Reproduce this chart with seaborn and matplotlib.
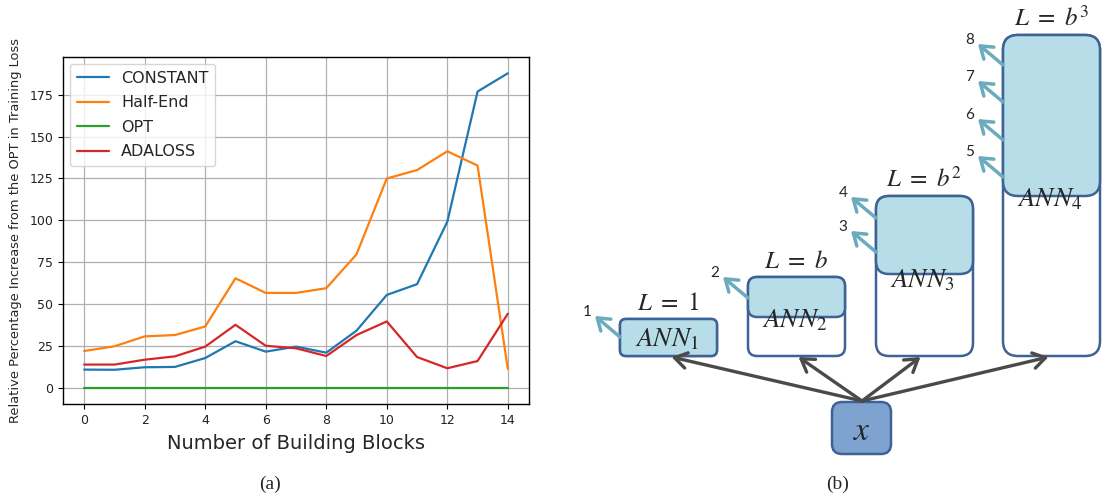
import matplotlib
matplotlib.use("Agg")
import matplotlib.pyplot as plt
import pandas as pd
import seaborn as sns
from matplotlib.patches import FancyBboxPatch

# ---- panel (a): training-loss increase relative to OPT ----
blocks = list(range(15))
constant = [11.1, 11.0, 12.5, 12.7, 18.0, 28.0, 21.8, 24.8, 21.2, 34.3, 55.6, 62.0, 99.2, 176.8, 187.7]
half_end = [22.2, 25.0, 30.9, 31.7, 36.8, 65.5, 56.8, 56.8, 59.6, 79.8, 125.0, 130.0, 141.2, 132.7, 11.5]
opt = [0.0] * 15
adaloss = [14.1, 14.1, 17.0, 19.0, 24.8, 37.8, 25.3, 23.8, 19.2, 31.7, 39.8, 18.6, 11.9, 16.2, 44.4]
methods = ["CONSTANT", "Half-End", "OPT", "ADALOSS"]
x_ticks = [0, 2, 4, 6, 8, 10, 12, 14]
y_ticks = [0, 25, 50, 75, 100, 125, 150, 175]

# ---- panel (b): anytime network with growing depth ----
ann_labels = [r"$ANN_1$", r"$ANN_2$", r"$ANN_3$", r"$ANN_4$"]
depth_labels = [r"$L\ =\ 1$", r"$L\ =\ b$", r"$L\ =\ b^2$", r"$L\ =\ b^3$"]
output_ids = [[1], [2], [3, 4], [5, 6, 7, 8]]
input_label = r"$x$"

sns.set_theme(style="ticks")
plt.rcParams["font.family"] = ["DejaVu Sans"]
plt.rcParams["axes.edgecolor"] = "black"
plt.rcParams["axes.linewidth"] = 1.0

W, H = 1106, 498
fig = plt.figure(figsize=(W / 100, H / 100), dpi=100)

# line chart
ax = fig.add_axes([63 / W, (H - 404) / H, (529 - 63) / W, (404 - 57) / H])
df = pd.DataFrame({
    "block": blocks * 4,
    "value": constant + half_end + opt + adaloss,
    "method": sum([[m] * len(blocks) for m in methods], []),
})
palette = dict(zip(methods, ["#1f77b4", "#ff7f0e", "#2ca02c", "#d62728"]))
sns.lineplot(data=df, x="block", y="value", hue="method", hue_order=methods,
             palette=palette, linewidth=1.6, ax=ax)
ax.set_xticks(x_ticks)
ax.set_yticks(y_ticks)
ax.set_xlim(-0.7, 14.7)
ax.set_ylim(-9.4, 197.4)
ax.grid(True, color="#b0b0b0", linewidth=0.9)
ax.set_axisbelow(True)
ax.tick_params(labelsize=9, length=3.5, width=0.8, color="black", labelcolor="#222222")
ax.set_xlabel("Number of Building Blocks", fontsize=14, labelpad=5)
ax.set_ylabel("Relative Percentage Increase from the OPT in Training Loss",
              fontsize=9.4, labelpad=5)
handles, labels = ax.get_legend_handles_labels()
ax.legend(handles, labels, loc="upper left", fontsize=11.5, frameon=True,
          framealpha=0.8, edgecolor="#cccccc", fancybox=True, labelspacing=0.6,
          borderaxespad=0.45)
for s in ax.spines.values():
    s.set_visible(True)
    s.set_color("black")

# diagram drawn in a pixel-scaled frame
dx = fig.add_axes([580 / W, 0, (W - 580) / W, 1])
dx.set_xlim(580, W)
dx.set_ylim(H, 0)
dx.axis("off")

edge = "#3f6296"
light = "#b7dde8"
dark_fill = "#7fa3d1"
teal = "#6aabbd"
gray = "#4a4a4a"

box_left = [620, 748, 876, 1003]
box_w = 97
box_top = [319, 277, 196, 35]
box_bottom = 356
fill_bottom = [356, 317, 274, 196]
radius = [6, 9, 13, 15]
ann_baseline = [346, 327, 287, 206]

for i in range(4):
    xl, yt = box_left[i], box_top[i]
    outer = FancyBboxPatch((xl, yt), box_w, box_bottom - yt,
                           boxstyle=f"round,pad=0,rounding_size={radius[i]}",
                           facecolor="white", edgecolor=edge, linewidth=1.8, zorder=2)
    dx.add_patch(outer)
    inner = FancyBboxPatch((xl, yt), box_w, fill_bottom[i] - yt,
                           boxstyle=f"round,pad=0,rounding_size={radius[i]}",
                           facecolor=light, edgecolor=edge, linewidth=1.8, zorder=3)
    dx.add_patch(inner)
    cx = xl + box_w / 2
    dx.text(cx, yt - 9, depth_labels[i], ha="center", va="baseline",
            fontsize=18, math_fontfamily="stix", zorder=5)
    dx.text(cx - 2, ann_baseline[i], ann_labels[i], ha="center", va="baseline",
            fontsize=19.5, math_fontfamily="stix", zorder=5)

# intermediate outputs leaving the shaded part of each block
out_start = {1: (620, 337), 2: (748, 298), 3: (876, 252), 4: (876, 218),
             5: (1003, 177), 6: (1003, 140), 7: (1003, 102), 8: (1003, 65)}
for ids in output_ids:
    for k in ids:
        sx, sy = out_start[k]
        tx, ty = sx - 25, sy - 21
        dx.annotate("", xy=(tx, ty), xytext=(sx, sy),
                    arrowprops=dict(arrowstyle="->,head_length=0.5,head_width=0.35",
                                    color=teal, lw=2.5, shrinkA=0, shrinkB=0,
                                    mutation_scale=16), zorder=4)
        dx.text(tx - 8, ty - 4, str(k), ha="center", va="center",
                fontsize=11, family="Lato", zorder=5)

# input node and its connections
xin = FancyBboxPatch((832, 402), 59, 52, boxstyle="round,pad=0,rounding_size=10",
                     facecolor=dark_fill, edgecolor=edge, linewidth=1.8, zorder=3)
dx.add_patch(xin)
dx.text(861.5, 430, input_label, ha="center", va="center", fontsize=24,
        math_fontfamily="stix", zorder=5)
src = (862, 401)
for i in range(4):
    tip = (box_left[i] + box_w / 2 + [3, 2, -4, -3][i], box_bottom + 1)
    dx.annotate("", xy=tip, xytext=src,
                arrowprops=dict(arrowstyle="->,head_length=0.55,head_width=0.35",
                                color=gray, lw=2.4, shrinkA=0, shrinkB=0,
                                mutation_scale=16), zorder=4)

fig.text(270 / W, 1 - 484 / H, "(a)", ha="center", va="center",
         family="Liberation Serif", fontsize=14)
fig.text(838 / W, 1 - 484 / H, "(b)", ha="center", va="center",
         family="Liberation Serif", fontsize=14)

fig.savefig("out.png", dpi=100)
